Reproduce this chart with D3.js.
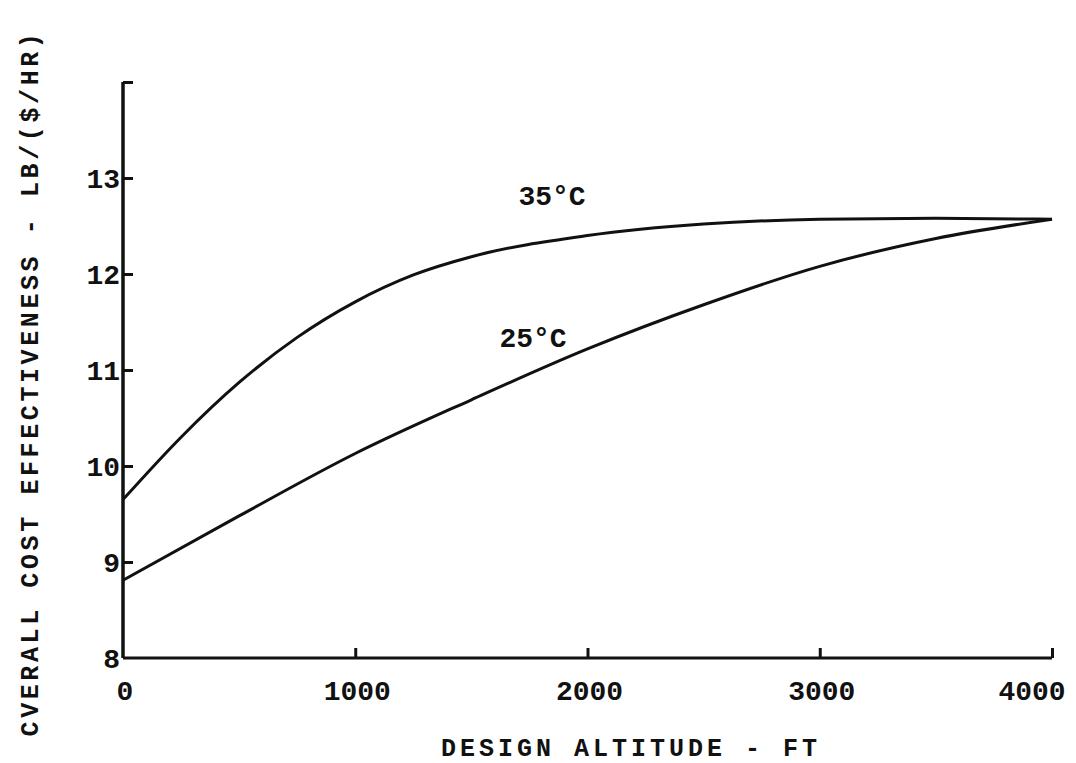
<!DOCTYPE html>
<html><head><meta charset="utf-8">
<script src="https://cdn.jsdelivr.net/npm/d3@7"></script>
<style>
body{margin:0;background:#fff;}
text{font-family:"Liberation Mono","DejaVu Sans Mono",monospace;fill:#111;}
</style></head>
<body><svg id="c" width="1076" height="763"></svg>
<script>
const xTicks = [0, 1000, 2000, 3000, 4000];
const yTicks = [8, 9, 10, 11, 12, 13];
const alt35 = [0, 250, 500, 750, 1000, 1250, 1500, 2000, 2500, 3000, 3500, 4000];
const val35 = [9.65, 10.30, 10.87, 11.34, 11.71, 11.99, 12.18, 12.40, 12.52, 12.57, 12.58, 12.57];
const alt25 = [0, 500, 1000, 1500, 2000, 2500, 3000, 3500, 4000];
const val25 = [8.81, 9.48, 10.13, 10.69, 11.22, 11.68, 12.08, 12.37, 12.57];
const seriesLabels = ["35°C", "25°C"];

const svg = d3.select("#c");
const x = d3.scaleLinear().domain([0, 4000]).range([123, 1052]);
const y = d3.scaleLinear().domain([8, 14]).range([658, 82]);

const ink = "#111";
// axes
const xAxis = svg.append("g").attr("transform", `translate(0,${y(8)})`)
  .call(d3.axisTop(x).tickValues(xTicks.slice(1)).tickSize(10).tickFormat(""));
xAxis.select(".domain").remove();
xAxis.selectAll("line").attr("stroke", ink).attr("stroke-width", 3);
svg.append("line").attr("x1", x(0)).attr("x2", x(4000)).attr("y1", y(8)).attr("y2", y(8))
  .attr("stroke", ink).attr("stroke-width", 3);

const yAxis = svg.append("g").attr("transform", `translate(${x(0)},0)`)
  .call(d3.axisRight(y).tickValues(yTicks.slice(1).concat([14])).tickSize(10).tickFormat(""));
yAxis.select(".domain").remove();
yAxis.selectAll("line").attr("stroke", ink).attr("stroke-width", 3);
svg.append("line").attr("x1", x(0)).attr("x2", x(0)).attr("y1", y(14)).attr("y2", y(8))
  .attr("stroke", ink).attr("stroke-width", 3.5);

// tick labels
svg.selectAll(".xl").data(xTicks).enter().append("text")
  .attr("x", (d, i) => x(d) + (i === 4 ? -20 : 2)).attr("y", 700)
  .attr("text-anchor", "middle").style("font-size", "28px").style("font-weight", "bold")
  .text(d => d);
svg.selectAll(".yl").data(yTicks).enter().append("text")
  .attr("x", x(0) - 3).attr("y", d => y(d) + 10)
  .attr("text-anchor", "end").style("font-size", "28px").style("font-weight", "bold")
  .text(d => d);

// curves
const line = d3.line().x(d => x(d[0])).y(d => y(d[1])).curve(d3.curveMonotoneX);
svg.append("path").datum(alt35.map((a, i) => [a, val35[i]]))
  .attr("d", line).attr("fill", "none").attr("stroke", ink).attr("stroke-width", 3);
svg.append("path").datum(alt25.map((a, i) => [a, val25[i]]))
  .attr("d", line).attr("fill", "none").attr("stroke", ink).attr("stroke-width", 3);

svg.append("text").attr("x", 552).attr("y", 205).attr("text-anchor", "middle")
  .style("font-size", "28px").style("font-weight", "bold").text(seriesLabels[0]);
svg.append("text").attr("x", 533).attr("y", 347).attr("text-anchor", "middle")
  .style("font-size", "28px").style("font-weight", "bold").text(seriesLabels[1]);

// axis titles
svg.append("text").attr("x", 631).attr("y", 756).attr("text-anchor", "middle")
  .style("font-size", "25px").style("letter-spacing", "4px").style("font-weight", "bold")
  .text("DESIGN ALTITUDE - FT");
svg.append("text").attr("transform", "translate(38,383) rotate(-90)").attr("text-anchor", "middle")
  .style("font-size", "25px").style("letter-spacing", "3.6px").style("font-weight", "bold")
  .text("CVERALL COST EFFECTIVENESS - LB/($/HR)");
</script></body></html>
